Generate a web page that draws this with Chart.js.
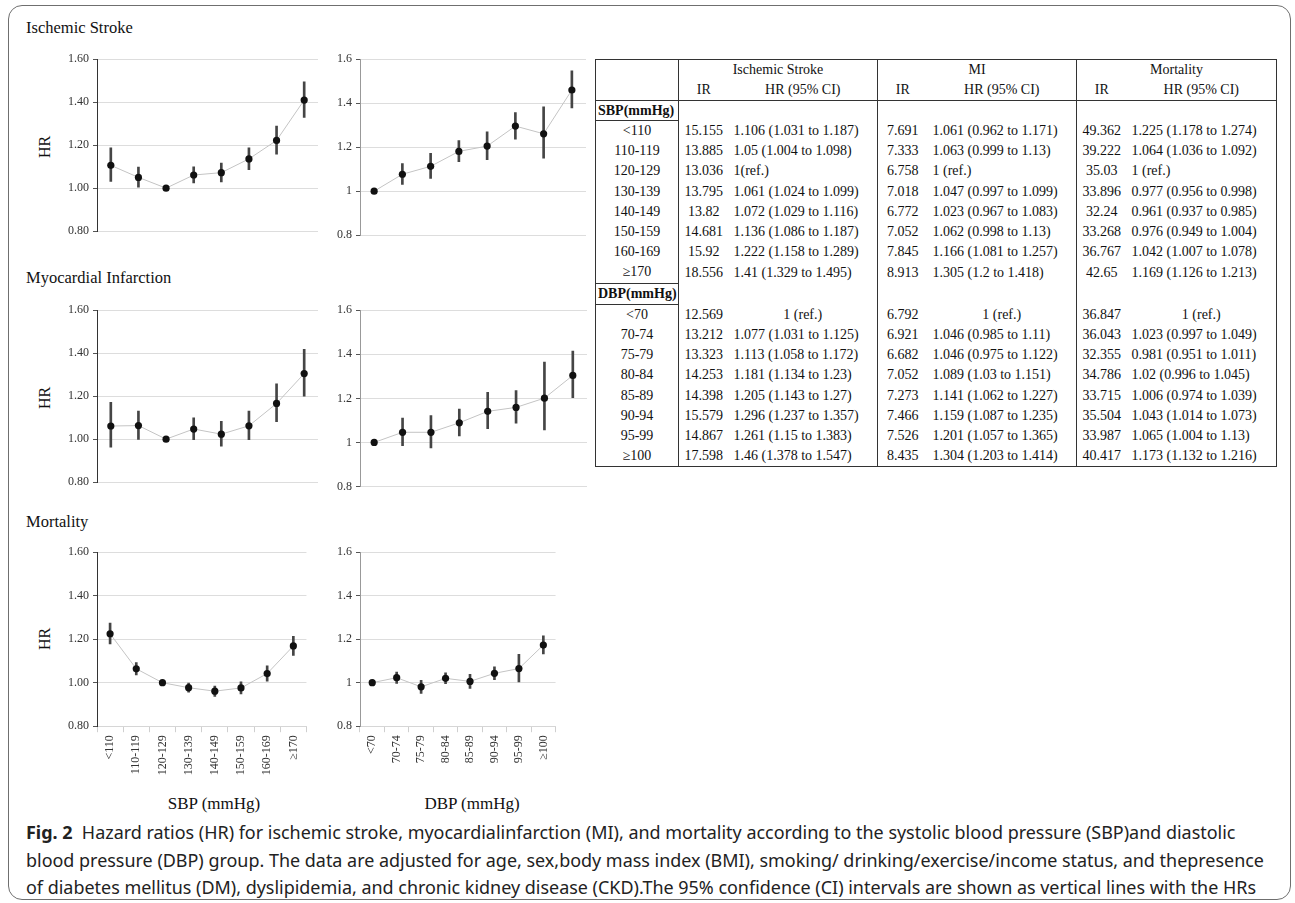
<!DOCTYPE html>
<html>
<head>
<meta charset="utf-8">
<title>Fig. 2 Hazard ratios by blood pressure group</title>
<script src="https://cdn.jsdelivr.net/npm/chart.js@4/dist/chart.umd.min.js"></script>
<style>
  body { margin: 0; width: 1295px; height: 903px; background: #fff; position: relative; overflow: hidden; }
  .frame { position: absolute; left: 8px; top: 5px; width: 1283px; height: 895px; border: 1px solid #6f6f6f; border-radius: 14px; box-sizing: border-box; }
  .abs { position: absolute; white-space: nowrap; }
  .title { font-family: "Liberation Serif", serif; font-size: 16.5px; color: #111; line-height: 20px; }
  .hr { font-family: "Liberation Serif", serif; font-size: 16px; color: #111; transform: translate(-50%, -50%) rotate(-90deg); }
  .xt { font-family: "Liberation Serif", serif; font-size: 17px; color: #111; transform: translate(-50%, -50%); }
  canvas { position: absolute; }
  #tbl { position: absolute; left: 595px; top: 59px; border-collapse: collapse; table-layout: fixed;
         font-family: "Liberation Serif", serif; font-size: 14px; color: #111; border: 1px solid #333; }
  #tbl th { font-weight: normal; padding: 0; white-space: nowrap; height: 20px; line-height: 20px; }
  #tbl td { padding: 0; height: 20.2px; line-height: 20.2px; white-space: nowrap; }
  #tbl .hd2 th { border-bottom: 1.5px solid #333; }
  #tbl .grprow td { height: 19px; line-height: 19px; }
  #tbl .c0 { text-align: center; border-right: 1px solid #333; }
  #tbl .ir { text-align: center; }
  #tbl .ci { text-align: left; padding-left: 5px; border-right: 1px solid #333; }
  #tbl .ref { text-align: center; padding-left: 0; }
  #tbl .grp { font-weight: bold; text-align: left; padding-left: 2px; }
  #tbl .bb { border-bottom: 1px solid #333; }
  #tbl .bt { border-top: 1px solid #333; }
  #caption { position: absolute; left: 26px; top: 819px; font-family: "Noto Sans", sans-serif; font-size: 18px; line-height: 27.5px; color: #222; }
  #caption div { white-space: nowrap; transform-origin: 0 50%; width: max-content; }
</style>
</head>
<body>
<div class="frame"></div>

<div class="abs title" style="left:26px; top:18px;">Ischemic Stroke</div>
<div class="abs title" style="left:26px; top:268px;">Myocardial Infarction</div>
<div class="abs title" style="left:26px; top:512px;">Mortality</div>

<div class="abs hr" style="left:45px; top:147px;">HR</div>
<div class="abs hr" style="left:45px; top:398px;">HR</div>
<div class="abs hr" style="left:45px; top:639px;">HR</div>

<canvas id="isSbp" width="300" height="220"></canvas>
<canvas id="isDbp" width="300" height="220"></canvas>
<canvas id="miSbp" width="300" height="220"></canvas>
<canvas id="miDbp" width="300" height="220"></canvas>
<canvas id="moSbp" width="300" height="280"></canvas>
<canvas id="moDbp" width="300" height="280"></canvas>

<div class="abs xt" style="left:214px; top:804px;">SBP (mmHg)</div>
<div class="abs xt" style="left:472px; top:804px;">DBP (mmHg)</div>

<table id="tbl"></table>

<div id="caption">
  <div><b>Fig. 2</b>&nbsp; Hazard ratios (HR) for ischemic stroke, myocardialinfarction (MI), and mortality according to the systolic blood pressure (SBP)and diastolic</div>
  <div>blood pressure (DBP) group. The data are adjusted for age, sex,body mass index (BMI), smoking/ drinking/exercise/income status, and thepresence</div>
  <div>of diabetes mellitus (DM), dyslipidemia, and chronic kidney disease (CKD).The 95% confidence (CI) intervals are shown as vertical lines with the HRs</div>
</div>

<script>
// --- categories ---
const sbpCats = ['<110', '110-119', '120-129', '130-139', '140-149', '150-159', '160-169', '≥170'];
const dbpCats = ['<70', '70-74', '75-79', '80-84', '85-89', '90-94', '95-99', '≥100'];

// --- Ischemic stroke ---
const isSbpIr = [15.155, 13.885, 13.036, 13.795, 13.82, 14.681, 15.92, 18.556];
const isSbpHr = [1.106, 1.05, 1, 1.061, 1.072, 1.136, 1.222, 1.41];
const isSbpLo = [1.031, 1.004, null, 1.024, 1.029, 1.086, 1.158, 1.329];
const isSbpHi = [1.187, 1.098, null, 1.099, 1.116, 1.187, 1.289, 1.495];
const isDbpIr = [12.569, 13.212, 13.323, 14.253, 14.398, 15.579, 14.867, 17.598];
const isDbpHr = [1, 1.077, 1.113, 1.181, 1.205, 1.296, 1.261, 1.46];
const isDbpLo = [null, 1.031, 1.058, 1.134, 1.143, 1.237, 1.15, 1.378];
const isDbpHi = [null, 1.125, 1.172, 1.23, 1.27, 1.357, 1.383, 1.547];

// --- Myocardial infarction ---
const miSbpIr = [7.691, 7.333, 6.758, 7.018, 6.772, 7.052, 7.845, 8.913];
const miSbpHr = [1.061, 1.063, 1, 1.047, 1.023, 1.062, 1.166, 1.305];
const miSbpLo = [0.962, 0.999, null, 0.997, 0.967, 0.998, 1.081, 1.2];
const miSbpHi = [1.171, 1.13, null, 1.099, 1.083, 1.13, 1.257, 1.418];
const miDbpIr = [6.792, 6.921, 6.682, 7.052, 7.273, 7.466, 7.526, 8.435];
const miDbpHr = [1, 1.046, 1.046, 1.089, 1.141, 1.159, 1.201, 1.304];
const miDbpLo = [null, 0.985, 0.975, 1.03, 1.062, 1.087, 1.057, 1.203];
const miDbpHi = [null, 1.11, 1.122, 1.151, 1.227, 1.235, 1.365, 1.414];

// --- Mortality ---
const moSbpIr = [49.362, 39.222, 35.03, 33.896, 32.24, 33.268, 36.767, 42.65];
const moSbpHr = [1.225, 1.064, 1, 0.977, 0.961, 0.976, 1.042, 1.169];
const moSbpLo = [1.178, 1.036, null, 0.956, 0.937, 0.949, 1.007, 1.126];
const moSbpHi = [1.274, 1.092, null, 0.998, 0.985, 1.004, 1.078, 1.213];
const moDbpIr = [36.847, 36.043, 32.355, 34.786, 33.715, 35.504, 33.987, 40.417];
const moDbpHr = [1, 1.023, 0.981, 1.02, 1.006, 1.043, 1.065, 1.173];
const moDbpLo = [null, 0.997, 0.951, 0.996, 0.974, 1.014, 1.004, 1.132];
const moDbpHi = [null, 1.049, 1.011, 1.045, 1.039, 1.073, 1.13, 1.216];

// y axis range / step
const yMin = 0.8, yMax = 1.6, yStep = 0.2;

// table column titles
const outcomes = ['Ischemic Stroke', 'MI', 'Mortality'];
const sbpRefText = ['1(ref.)', '1 (ref.)', '1 (ref.)'];
const dbpRefText = ['1 (ref.)', '1 (ref.)', '1 (ref.)'];

const serif = 'Liberation Serif';

function makeChart(id, cats, hr, lo, hi, o) {
    const bars = cats.map((c, i) => lo[i] == null ? null : [lo[i], hi[i]]);
    return new Chart(document.getElementById(id), {
        data: {
            labels: cats,
            datasets: [
                { type: 'line', data: hr, borderColor: '#c4c4c4', borderWidth: 1,
                  pointRadius: 3.6, pointBackgroundColor: '#111', pointBorderWidth: 0, order: 0 },
                { type: 'bar', data: bars, backgroundColor: '#454545', barThickness: 2, order: 1 }
            ]
        },
        options: {
            responsive: false,
            animation: false,
            events: [],
            layout: { padding: { top: 8, right: 4, bottom: o.xLabels ? 0 : 8, left: 0 } },
            plugins: { legend: { display: false }, tooltip: { enabled: false } },
            scales: {
                x: {
                    display: o.xLabels,
                    offset: true,
                    grid: { drawOnChartArea: false, offset: true, color: '#cfcfcf', tickLength: 6 },
                    border: { color: '#d6d6d6' },
                    ticks: { color: '#333', font: { family: serif, size: 12 }, minRotation: 90, maxRotation: 90, padding: 3 }
                },
                y: {
                    min: yMin, max: yMax,
                    afterFit: s => { s.width = 40; },
                    border: { color: o.axisColor, width: 1 },
                    grid: { color: '#dddddd', tickColor: '#555', tickLength: 4 },
                    ticks: {
                        stepSize: yStep, color: '#333', font: { family: serif, size: 12 }, padding: 4,
                        callback: v => o.fixed ? v.toFixed(2) : String(+v.toFixed(1))
                    }
                }
            }
        }
    });
}

// put the plot area of a chart at the wanted spot on the page
function place(chart, x, y, w, h) {
    let a = chart.chartArea;
    chart.resize(w + chart.width - (a.right - a.left), h + chart.height - (a.bottom - a.top));
    a = chart.chartArea;
    chart.canvas.style.left = (x - a.left) + 'px';
    chart.canvas.style.top = (y - a.top) + 'px';
}

const col1 = { x: 97, w: 221 }, col2 = { x: 360, w: 227 };
const rows = [{ y: 59, h: 176 }, { y: 310, h: 177 }, { y: 552, h: 174 }];

const charts = [
    ['isSbp', sbpCats, isSbpHr, isSbpLo, isSbpHi, col1, rows[0], { fixed: true, axisColor: '#333', xLabels: false }],
    ['isDbp', dbpCats, isDbpHr, isDbpLo, isDbpHi, col2, rows[0], { fixed: false, axisColor: '#999', xLabels: false }],
    ['miSbp', sbpCats, miSbpHr, miSbpLo, miSbpHi, col1, rows[1], { fixed: true, axisColor: '#333', xLabels: false }],
    ['miDbp', dbpCats, miDbpHr, miDbpLo, miDbpHi, col2, rows[1], { fixed: false, axisColor: '#999', xLabels: false }],
    ['moSbp', sbpCats, moSbpHr, moSbpLo, moSbpHi, col1, rows[2], { fixed: true, axisColor: '#333', xLabels: true }],
    ['moDbp', dbpCats, moDbpHr, moDbpLo, moDbpHi, col2, rows[2], { fixed: false, axisColor: '#999', xLabels: true }]
];
charts.forEach(c => {
    const ch = makeChart(c[0], c[1], c[2], c[3], c[4], c[7]);
    place(ch, c[5].x, c[6].y, c[5].w, c[6].h);
});

// --- table ---
const tbl = document.getElementById('tbl');
const widths = [83, 50, 149, 50, 149, 50, 150];
let html = '<colgroup>' + widths.map(w => `<col style="width:${w}px">`).join('') + '</colgroup>';
html += '<tr class="hd1"><th class="c0"></th>' + outcomes.map(t => `<th colspan="2" style="border-right:1px solid #333">${t}</th>`).join('') + '</tr>';
html += '<tr class="hd2"><th class="c0"></th>' + outcomes.map(() => '<th>IR</th><th style="border-right:1px solid #333">HR (95% CI)</th>').join('') + '</tr>';

function section(name, cats, ir, hr, lo, hi, refText, refCentered, first) {
    let s = `<tr class="${first ? 'grprow' : ''}"><td class="c0 grp bb${first ? '' : ' bt'}">${name}</td>` +
        '<td></td><td class="ci"></td>'.repeat(3) + '</tr>';
    cats.forEach((cat, i) => {
        s += `<tr><td class="c0">${cat.replace('<', '&lt;')}</td>`;
        for (let k = 0; k < 3; k++) {
            const ci = lo[k][i] == null
                ? `<td class="ci${refCentered ? ' ref' : ''}">${refText[k]}</td>`
                : `<td class="ci">${hr[k][i]} (${lo[k][i]} to ${hi[k][i]})</td>`;
            s += `<td class="ir">${ir[k][i]}</td>` + ci;
        }
        s += '</tr>';
    });
    return s;
}
html += section('SBP(mmHg)', sbpCats, [isSbpIr, miSbpIr, moSbpIr], [isSbpHr, miSbpHr, moSbpHr],
    [isSbpLo, miSbpLo, moSbpLo], [isSbpHi, miSbpHi, moSbpHi], sbpRefText, false, true);
html += section('DBP(mmHg)', dbpCats, [isDbpIr, miDbpIr, moDbpIr], [isDbpHr, miDbpHr, moDbpHr],
    [isDbpLo, miDbpLo, moDbpLo], [isDbpHi, miDbpHi, moDbpHi], dbpRefText, true, false);
tbl.innerHTML = html;

// squeeze the caption lines (condensed face) so they fill the frame width
const lines = Array.from(document.getElementById('caption').children);
const widest = Math.max(...lines.map(l => l.getBoundingClientRect().width));
const sx = 1238 / widest;
lines.forEach(l => { l.style.transform = `scaleX(${sx.toFixed(4)})`; });
</script>
</body>
</html>
